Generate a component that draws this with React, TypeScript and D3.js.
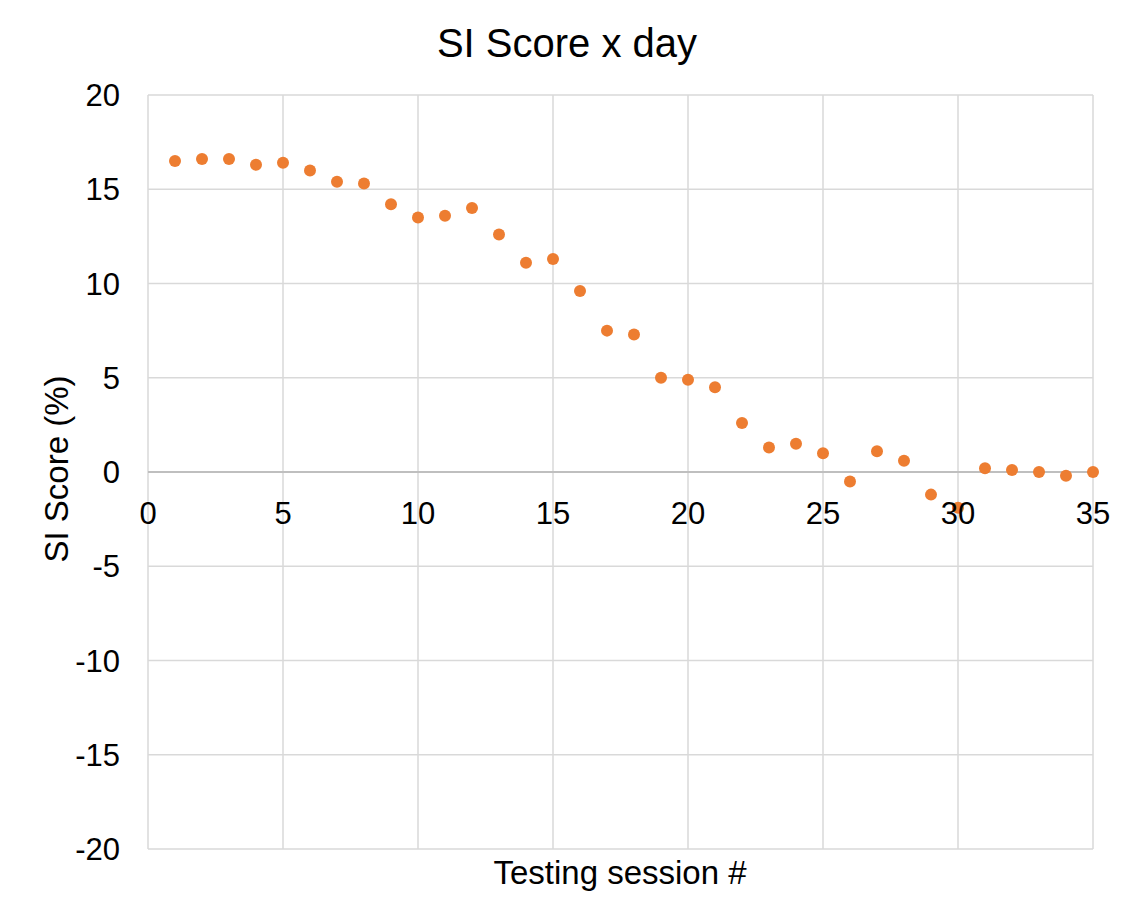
import { useRef, useEffect } from 'react'
import * as d3 from 'd3'

const sessions = [
  1, 2, 3, 4, 5, 6, 7, 8, 9, 10, 11, 12, 13, 14, 15, 16, 17, 18,
  19, 20, 21, 22, 23, 24, 25, 26, 27, 28, 29, 30, 31, 32, 33, 34, 35,
]
const siScores = [
  16.5, 16.6, 16.6, 16.3, 16.4, 16.0, 15.4, 15.3, 14.2, 13.5, 13.6, 14.0,
  12.6, 11.1, 11.3, 9.6, 7.5, 7.3, 5.0, 4.9, 4.5, 2.6, 1.3, 1.5, 1.0, -0.5,
  1.1, 0.6, -1.2, -1.9, 0.2, 0.1, 0.0, -0.2, 0.0,
]
const xTicks = [0, 5, 10, 15, 20, 25, 30, 35]
const yTicks = [-20, -15, -10, -5, 0, 5, 10, 15, 20]

const WIDTH = 1135
const HEIGHT = 916
const FONT = "'Liberation Sans', Arial, Helvetica, sans-serif"

function ScatterChart() {
  const svgRef = useRef<SVGSVGElement>(null)

  useEffect(() => {
    if (!svgRef.current) return
    const svg = d3.select(svgRef.current)
    svg.selectAll('*').remove()

    const x = d3.scaleLinear().domain([0, 35]).range([148, 1093])
    const y = d3.scaleLinear().domain([-20, 20]).range([849, 95])

    svg.append('rect')
      .attr('width', WIDTH)
      .attr('height', HEIGHT)
      .attr('fill', '#ffffff')

    // grid
    const grid = svg.append('g')
    grid.selectAll('.vgrid')
      .data(xTicks)
      .enter()
      .append('line')
      .attr('x1', d => x(d))
      .attr('x2', d => x(d))
      .attr('y1', y(20))
      .attr('y2', y(-20))
      .attr('stroke', '#d9d9d9')
      .attr('stroke-width', 1.5)

    grid.selectAll('.hgrid')
      .data(yTicks.filter(d => d !== 0))
      .enter()
      .append('line')
      .attr('x1', x(0))
      .attr('x2', x(35))
      .attr('y1', d => y(d))
      .attr('y2', d => y(d))
      .attr('stroke', '#d9d9d9')
      .attr('stroke-width', 1.5)

    // horizontal axis at zero
    svg.append('line')
      .attr('x1', x(0))
      .attr('x2', x(35))
      .attr('y1', y(0))
      .attr('y2', y(0))
      .attr('stroke', '#bfbfbf')
      .attr('stroke-width', 2)

    // points
    svg.selectAll('.dot')
      .data(sessions)
      .enter()
      .append('circle')
      .attr('cx', d => x(d))
      .attr('cy', (d, i) => y(siScores[i]))
      .attr('r', 6)
      .attr('fill', '#ED7D31')

    // y tick labels
    svg.selectAll('.ylab')
      .data(yTicks)
      .enter()
      .append('text')
      .attr('x', 120)
      .attr('y', d => y(d))
      .attr('dy', '0.36em')
      .attr('text-anchor', 'end')
      .style('font-family', FONT)
      .style('font-size', '31px')
      .style('fill', '#000')
      .text(d => d)

    // x tick labels (axis crosses at y = 0)
    svg.selectAll('.xlab')
      .data(xTicks)
      .enter()
      .append('text')
      .attr('x', d => x(d))
      .attr('y', y(0) + 52)
      .attr('text-anchor', 'middle')
      .style('font-family', FONT)
      .style('font-size', '31px')
      .style('fill', '#000')
      .text(d => d)

    // title
    svg.append('text')
      .attr('x', 567)
      .attr('y', 57)
      .attr('text-anchor', 'middle')
      .style('font-family', FONT)
      .style('font-size', '40px')
      .style('fill', '#000')
      .text('SI Score x day')

    // x axis title
    svg.append('text')
      .attr('x', 620)
      .attr('y', 884)
      .attr('text-anchor', 'middle')
      .style('font-family', FONT)
      .style('font-size', '33px')
      .style('fill', '#000')
      .text('Testing session #')

    // y axis title
    svg.append('text')
      .attr('transform', `translate(68, ${y(0) - 3}) rotate(-90)`)
      .attr('text-anchor', 'middle')
      .style('font-family', FONT)
      .style('font-size', '33px')
      .style('fill', '#000')
      .text('SI Score (%)')
  }, [])

  return (
    <svg
      ref={svgRef}
      width={WIDTH}
      height={HEIGHT}
      style={{ position: 'absolute', left: 0, top: 0, display: 'block' }}
    />
  )
}

export default function App() {
  return <ScatterChart />
}
